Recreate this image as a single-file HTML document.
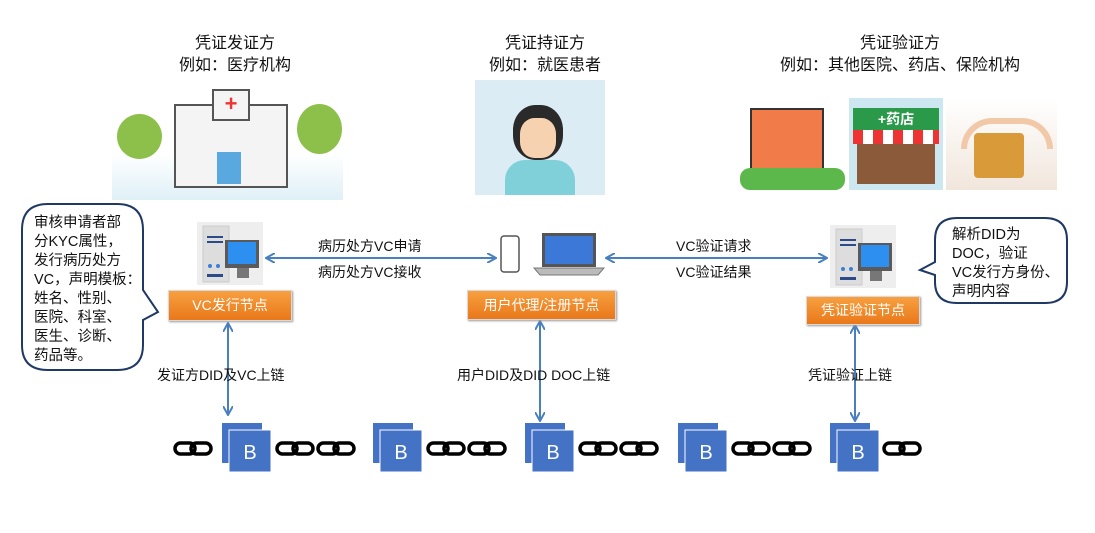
<!DOCTYPE html>
<html><head><meta charset="utf-8"><style>
body{margin:0;width:1095px;height:533px;background:#fff;position:relative;overflow:hidden;font-family:"Liberation Sans","Noto Sans CJK SC",sans-serif;color:#111}
.t{position:absolute;font-size:16px;text-align:center;line-height:22px}
.s{position:absolute;font-size:14px;white-space:nowrap}
.o{position:absolute;background:linear-gradient(#f7a040,#e9781a);color:#fff;font-size:14px;text-align:center;border:1px solid #d9d9d9;box-shadow:1px 1px 2px #999}
.img{position:absolute}
</style></head><body>
<div class="t" style="left:150px;top:33px;width:170px">凭证发证方<br>例如：医疗机构</div>
<div class="t" style="left:460px;top:33px;width:170px">凭证持证方<br>例如：就医患者</div>
<div class="t" style="left:740px;top:33px;width:320px">凭证验证方<br>例如：其他医院、药店、保险机构</div>

<div class="img" style="left:112px;top:84px;width:231px;height:116px;background:linear-gradient(#fff 60%,#dff0f7)">
 <div style="position:absolute;left:62px;top:20px;width:110px;height:80px;background:#f4f4f4;border:2px solid #555"></div>
 <div style="position:absolute;left:100px;top:5px;width:34px;height:28px;background:#f4f4f4;border:2px solid #555;color:#e33;font-weight:bold;text-align:center;font-size:22px;line-height:26px">+</div>
 <div style="position:absolute;left:105px;top:68px;width:24px;height:32px;background:#5aa8e0"></div>
 <div style="position:absolute;left:5px;top:30px;width:45px;height:45px;border-radius:50%;background:#8cc04a"></div>
 <div style="position:absolute;left:185px;top:20px;width:45px;height:50px;border-radius:50%;background:#8cc04a"></div>
</div>
<div class="img" style="left:475px;top:80px;width:130px;height:115px;background:#dcecf5">
 <div style="position:absolute;left:38px;top:25px;width:50px;height:55px;border-radius:45%;background:#2a2a2a"></div>
 <div style="position:absolute;left:45px;top:38px;width:36px;height:40px;border-radius:40%;background:#f7d2b0"></div>
 <div style="position:absolute;left:30px;top:80px;width:70px;height:35px;border-radius:20px 20px 0 0;background:#7fd0d8"></div>
</div>
<div class="img" style="left:740px;top:98px;width:105px;height:92px;background:#fff">
 <div style="position:absolute;left:10px;top:10px;width:70px;height:70px;background:#f27b4a;border:2px solid #333"></div>
 <div style="position:absolute;left:0;top:70px;width:105px;height:22px;border-radius:10px;background:#5cb84a"></div>
</div>
<div class="img" style="left:849px;top:98px;width:94px;height:92px;background:#cde7f0">
 <div style="position:absolute;left:4px;top:10px;width:86px;height:22px;background:#2a9a4a;color:#fff;font-size:14px;font-weight:bold;text-align:center;line-height:22px">+药店</div>
 <div style="position:absolute;left:4px;top:32px;width:86px;height:14px;background:repeating-linear-gradient(90deg,#e33 0 10px,#fff 10px 20px)"></div>
 <div style="position:absolute;left:8px;top:46px;width:78px;height:40px;background:#8a5a3a"></div>
</div>
<div class="img" style="left:946px;top:98px;width:111px;height:92px;background:linear-gradient(#fff,#f1e6dc)">
 <div style="position:absolute;left:28px;top:35px;width:50px;height:45px;background:#d99a3a;border-radius:4px"></div>
 <div style="position:absolute;left:15px;top:20px;width:80px;height:25px;border-radius:40px 40px 0 0;border:6px solid #f2c9a8;border-bottom:none"></div>
</div>

<svg width="1095" height="533" style="position:absolute;left:0;top:0">
<defs><marker id="a" markerWidth="10" markerHeight="10" refX="8" refY="5" orient="auto-start-reverse" markerUnits="userSpaceOnUse"><path d="M0,0 L9,5 L0,10" fill="none" stroke="#4a7fbf" stroke-width="2"/></marker>
<g id="srv"><rect x="0" y="0" width="66" height="63" fill="#eee"/><rect x="6" y="4" width="26" height="56" fill="#ddd" stroke="#ccc"/><rect x="10" y="14" width="16" height="2" fill="#2b4a8a"/><rect x="10" y="19" width="16" height="2" fill="#2b4a8a"/><circle cx="13" cy="44" r="2" fill="#3a7fd5"/><circle cx="21" cy="44" r="2" fill="#3a7fd5"/><rect x="10" y="52" width="16" height="3" fill="#2b4a8a"/><rect x="28" y="18" width="34" height="28" fill="#5a5a5a"/><rect x="31" y="20" width="28" height="22" fill="#2d8ff0"/><rect x="40" y="46" width="12" height="10" fill="#777"/></g>
<g id="blk"><rect x="0" y="0" width="40" height="40" fill="#4472c4"/><rect x="7" y="7" width="42" height="42" fill="#4472c4" stroke="#fff"/><text x="28" y="36" fill="#fff" font-size="20" text-anchor="middle" font-family="Liberation Sans">B</text></g>
<g id="lnk"><rect x="0" y="-5" width="20" height="11" rx="5.5" fill="none" stroke="#000" stroke-width="3.5"/><rect x="16" y="-5" width="20" height="11" rx="5.5" fill="none" stroke="#000" stroke-width="3.5"/></g>
</defs>
<path d="M22,230 Q22,204 48,204 L117,204 Q143,204 143,230 L143,290 L158,312 L143,320 L143,345 Q143,370 117,370 L48,370 Q22,370 22,345 Z" fill="#fff" stroke="#1f3864" stroke-width="2"/>
<path d="M935,240 Q935,218 957,218 L1045,218 Q1067,218 1067,240 L1067,282 Q1067,303 1045,303 L957,303 Q935,303 935,282 L935,275 L920,270 L935,262 Z" fill="#fff" stroke="#1f3864" stroke-width="2"/>
<use href="#srv" x="197" y="222"/><use href="#srv" x="830" y="225"/>
<rect x="501" y="236" width="18" height="36" rx="3" fill="#fff" stroke="#555" stroke-width="1.5"/>
<rect x="542" y="233" width="54" height="34" fill="#555"/><rect x="545" y="236" width="48" height="28" fill="#3b78d8"/><path d="M534,268 L604,268 L598,275 L540,275 Z" fill="#bbb" stroke="#777"/>
<line x1="267" y1="258" x2="495" y2="258" stroke="#4a7fbf" stroke-width="2" marker-start="url(#a)" marker-end="url(#a)"/>
<line x1="607" y1="258" x2="826" y2="258" stroke="#4a7fbf" stroke-width="2" marker-start="url(#a)" marker-end="url(#a)"/>
<line x1="228" y1="324" x2="228" y2="414" stroke="#4a7fbf" stroke-width="2" marker-start="url(#a)" marker-end="url(#a)"/>
<line x1="540" y1="322" x2="540" y2="420" stroke="#4a7fbf" stroke-width="2" marker-start="url(#a)" marker-end="url(#a)"/>
<line x1="855" y1="326" x2="855" y2="420" stroke="#4a7fbf" stroke-width="2" marker-start="url(#a)" marker-end="url(#a)"/>
<use href="#lnk" x="175" y="448"/>
<use href="#lnk" x="277" y="448"/><use href="#lnk" x="318" y="448"/>
<use href="#lnk" x="428" y="448"/><use href="#lnk" x="469" y="448"/>
<use href="#lnk" x="580" y="448"/><use href="#lnk" x="621" y="448"/>
<use href="#lnk" x="733" y="448"/><use href="#lnk" x="774" y="448"/>
<use href="#lnk" x="884" y="448"/>
<use href="#blk" x="222" y="423"/><use href="#blk" x="373" y="423"/><use href="#blk" x="525" y="423"/><use href="#blk" x="678" y="423"/><use href="#blk" x="830" y="423"/>
</svg>
<div class="s" style="left:34px;top:214px;line-height:19px;font-size:14.5px">审核申请者部<br>分KYC属性，<br>发行病历处方<br>VC，声明模板：<br>姓名、性别、<br>医院、科室、<br>医生、诊断、<br>药品等。</div>
<div class="s" style="left:952px;top:226px;line-height:19px;font-size:14.5px">解析DID为<br>DOC，验证<br>VC发行方身份、<br>声明内容</div>
<div class="o" style="left:168px;top:290px;width:122px;height:29px;line-height:29px">VC发行节点</div>
<div class="o" style="left:467px;top:290px;width:147px;height:28px;line-height:28px">用户代理/注册节点</div>
<div class="o" style="left:806px;top:296px;width:112px;height:27px;line-height:27px">凭证验证节点</div>
<div class="s" style="left:318px;top:236px">病历处方VC申请</div>
<div class="s" style="left:318px;top:262px">病历处方VC接收</div>
<div class="s" style="left:676px;top:236px">VC验证请求</div>
<div class="s" style="left:676px;top:262px">VC验证结果</div>
<div class="s" style="left:157px;top:365px">发证方DID及VC上链</div>
<div class="s" style="left:457px;top:365px">用户DID及DID DOC上链</div>
<div class="s" style="left:808px;top:365px">凭证验证上链</div>
</body></html>
